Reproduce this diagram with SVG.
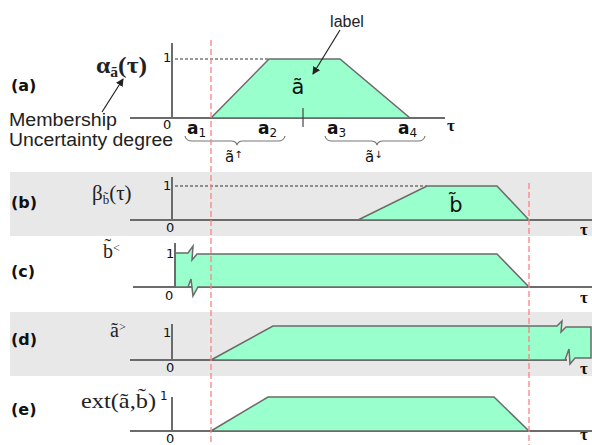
<svg xmlns="http://www.w3.org/2000/svg" width="592" height="445" viewBox="0 0 592 445">
<style>
.band{fill:#e8e8e8}
.ax{stroke:#6b6b6b;stroke-width:2;fill:none}
.shape{fill:#99ffcc;stroke:#6b6b6b;stroke-width:1.5}
.dash{stroke:#333;stroke-width:1;stroke-dasharray:3,2;fill:none}
.red{stroke:#ff8080;stroke-width:1.3;stroke-dasharray:6,3;fill:none}
.lbl{font-family:"DejaVu Sans",sans-serif;font-weight:bold;font-size:16px;fill:#111}
.num{font-family:"DejaVu Sans",sans-serif;fill:#111}
.sans{font-family:"Liberation Sans",Arial,sans-serif;fill:#222}
.ser{font-family:"Liberation Serif","Times New Roman",serif;fill:#222}
.tau{font-family:"Liberation Serif",serif;font-weight:bold;font-size:17px;fill:#111}
.ptr{stroke:#222;stroke-width:1.2;fill:none;marker-end:url(#ah)}
.brace{stroke:#777;stroke-width:1.2;fill:none}
</style>
<defs>
<marker id="ah" markerWidth="8" markerHeight="8" refX="7" refY="4" orient="auto" markerUnits="userSpaceOnUse">
<path d="M0,0 L8,4 L0,8 Z" fill="#222"/>
</marker>
</defs>
<rect width="592" height="445" fill="#fff"/>
<rect class="band" x="10" y="172" width="582" height="64"/>
<rect class="band" x="10" y="312" width="582" height="64"/>

<g id="panel-a">
<text class="lbl" x="11" y="91">(a)</text>
<text class="ser" x="96" y="73" font-size="23" font-weight="bold" textLength="51" lengthAdjust="spacingAndGlyphs">α<tspan font-size="14" dy="4">ã</tspan><tspan dy="-4">(τ)</tspan></text>
<text class="sans" x="9" y="126" font-size="18" textLength="108" lengthAdjust="spacingAndGlyphs">Membership</text>
<text class="sans" x="9" y="146" font-size="18" textLength="164" lengthAdjust="spacingAndGlyphs">Uncertainty degree</text>
<path class="ptr" d="M102,112 L123,79"/>
<path class="ax" d="M172,43 V118 M130,118 H445"/>
<path class="dash" d="M175,59 H269"/>
<polygon class="shape" points="211,118 269,59 340,59 410,118"/>
<path d="M303,108 V127" stroke="#444" stroke-width="1.2"/>
<text class="num" x="163" y="62" font-size="13">1</text>
<text class="num" x="163" y="129" font-size="13">0</text>
<text class="sans" x="347" y="27" font-size="16" text-anchor="middle">label</text>
<path class="ptr" d="M340,30 L313,74"/>
<text class="num" x="298" y="94" font-size="21" text-anchor="middle">ã</text>
<text class="num" x="187" y="134" font-size="17" font-weight="bold">a<tspan font-size="12" font-weight="normal" dy="3">1</tspan></text>
<text class="num" x="258" y="134" font-size="17" font-weight="bold">a<tspan font-size="12" font-weight="normal" dy="3">2</tspan></text>
<text class="num" x="327" y="134" font-size="17" font-weight="bold">a<tspan font-size="12" font-weight="normal" dy="3">3</tspan></text>
<text class="num" x="398" y="134" font-size="17" font-weight="bold">a<tspan font-size="12" font-weight="normal" dy="3">4</tspan></text>
<text class="tau" x="447" y="131">τ</text>
<path class="brace" d="M185,136 Q186,141 192,141 H231 Q236,141 237,145 Q238,141 243,141 H278 Q284,141 285,136"/>
<path class="brace" d="M325,136 Q326,141 332,141 H371 Q376,141 377,145 Q378,141 383,141 H418 Q424,141 425,136"/>
<text class="num" x="225" y="162" font-size="15">ã<tspan font-size="10" dy="-4">↑</tspan></text>
<text class="num" x="365" y="162" font-size="15">ã<tspan font-size="10" dy="-4">↓</tspan></text>
</g>

<g id="panel-b">
<text class="lbl" x="11" y="208">(b)</text>
<text class="ser" x="92" y="200" font-size="21">β<tspan font-size="13" dy="4">b̃</tspan><tspan dy="-4">(τ)</tspan></text>
<path class="ax" d="M172,177 V220 M130,220 H592"/>
<path class="dash" d="M175,186 H427"/>
<polygon class="shape" points="358,220 427,186 497,186 529,220"/>
<text class="num" x="163" y="190" font-size="13">1</text>
<text class="num" x="166" y="232" font-size="13">0</text>
<text class="num" x="456" y="212" font-size="21" text-anchor="middle">b̃</text>
<text class="tau" x="580" y="235">τ</text>
</g>

<g id="panel-c">
<text class="lbl" x="11" y="277">(c)</text>
<text class="ser" x="103" y="258" font-size="20">b̃<tspan font-size="12" dy="-6">&lt;</tspan></text>
<path class="ax" d="M133,287 H592"/>
<path class="shape" d="M175,287 V253 H188 L193,246 L192,260 L197,254 H497 L529,287 H198 L193,296 L191,279 L188,287 Z"/>
<path class="ax" d="M175,243 V287"/>
<text class="num" x="166" y="258" font-size="13">1</text>
<text class="num" x="165" y="300" font-size="13">0</text>
<text class="tau" x="580" y="303">τ</text>
</g>

<g id="panel-d">
<text class="lbl" x="11" y="345">(d)</text>
<text class="ser" x="110" y="337" font-size="20">ã<tspan font-size="12" dy="-6">&gt;</tspan></text>
<path class="ax" d="M172,324 V360 M130,360 H567"/>
<path class="shape" d="M211,360 L273,326 H557 L562,321 L561,332 L566,327 H591 V358 H575 L570,364 L569,349 L565,360 Z"/>
<text class="num" x="163" y="337" font-size="13">1</text>
<text class="num" x="166" y="372" font-size="13">0</text>
<text class="tau" x="580" y="374">τ</text>
</g>

<g id="panel-e">
<text class="lbl" x="11" y="415">(e)</text>
<text class="ser" x="81" y="408" font-size="21" textLength="75" lengthAdjust="spacingAndGlyphs">ext(ã,b̃)</text>
<text class="num" x="160" y="400" font-size="12">1</text>
<path class="ax" d="M172,397 V431 M130,431 H592"/>
<polygon class="shape" points="211,431 268,397 494,397 529,431"/>
<text class="num" x="166" y="443" font-size="13">0</text>
<text class="tau" x="580" y="440">τ</text>
</g>

<g id="connectors">
<path class="red" d="M211,40 V445"/>
<path class="red" d="M529,183 V445"/>
</g>
</svg>
